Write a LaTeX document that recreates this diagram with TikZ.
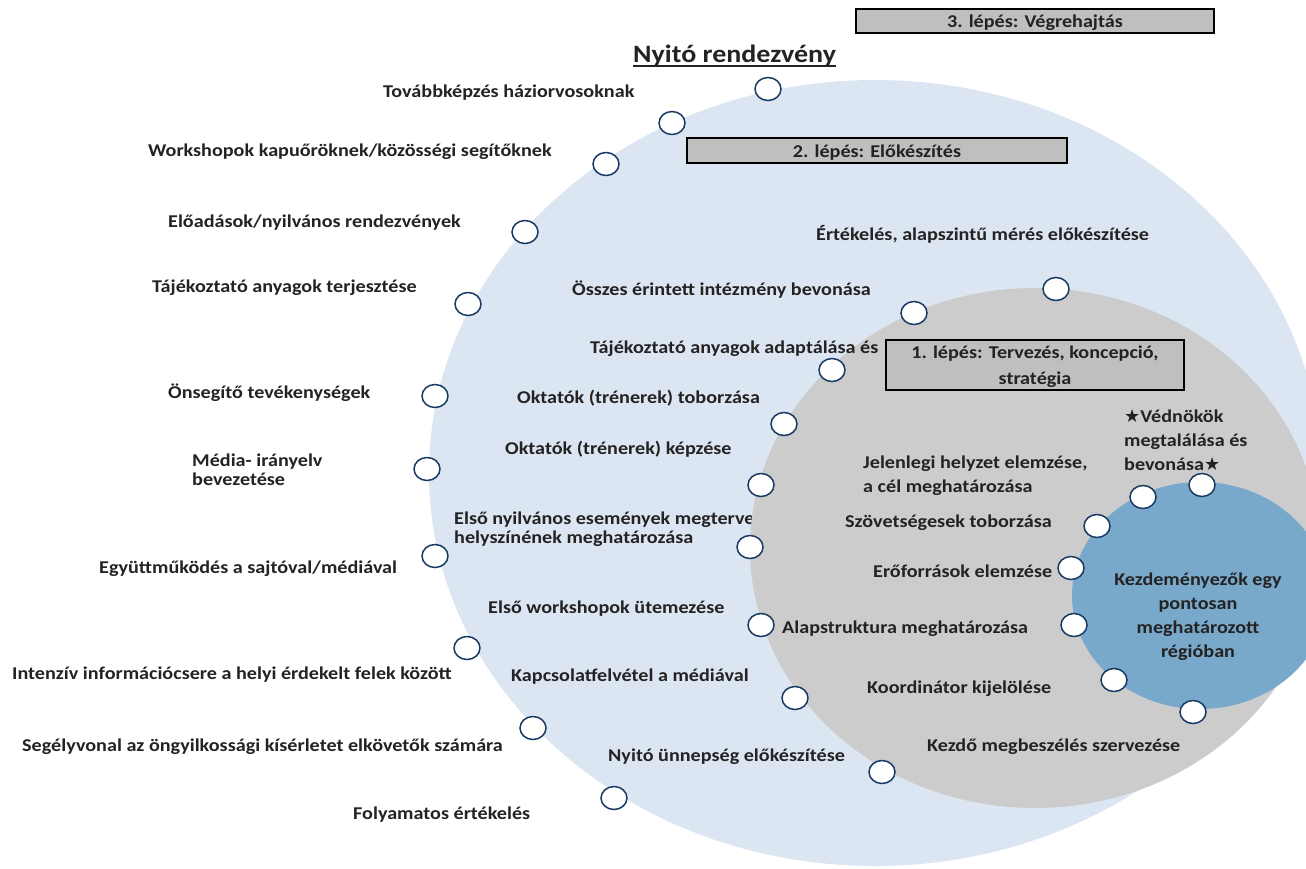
\documentclass[tikz,border=0pt]{standalone}
\usepackage{fontspec}
\setmainfont{Carlito}[FakeStretch=1.12]
\newfontfamily\symfont{DejaVu Sans}
\usetikzlibrary{shapes.geometric}
\definecolor{outerring}{RGB}{220,230,242}
\definecolor{midring}{RGB}{204,204,204}
\definecolor{core}{RGB}{120,169,203}
\definecolor{dotline}{RGB}{24,58,100}
\definecolor{ink}{RGB}{36,34,34}
\definecolor{stepfill}{RGB}{191,191,191}
\begin{document}
\begin{tikzpicture}[x=1pt,y=-1pt,
  % multi-line labels are placed by the baseline of their last line
  lbl/.style={anchor=base west, inner sep=0pt, text=ink, align=left,
    font=\bfseries\fontsize{18}{19}\selectfont},
  wide/.style={font=\bfseries\fontsize{18}{24}\selectfont},
  dot/.style={ellipse, draw=dotline, line width=1.5pt, fill=white,
    minimum width=26pt, minimum height=23pt, inner sep=0pt},
  stepbox/.style={draw=black, line width=1.6pt, fill=stepfill, inner sep=0pt},
  steptext/.style={anchor=base, inner sep=0pt, text=ink, align=center,
    font=\bfseries\fontsize{18}{26}\selectfont}]
\useasboundingbox (0,0) rectangle (1306,868);

% rings
\fill[outerring] (875,473) ellipse [x radius=446pt, y radius=393pt];
\node[lbl] (l16) at (454,543) {Első nyilvános események megterve\\helyszínének meghatározása};
\fill[midring] (1035,548) ellipse [x radius=285pt, y radius=260pt];
\fill[core] (1200,595.5) ellipse [x radius=128pt, y radius=113.5pt];

% outer activities
\node[lbl] (l1) at (383,97) {Továbbképzés háziorvosoknak};
\node[lbl] (l2) at (148,156) {Workshopok kapuőröknek/közösségi segítőknek};
\node[lbl] (l3) at (168,227) {Előadások/nyilvános rendezvények};
\node[lbl] (l4) at (152,292) {Tájékoztató anyagok terjesztése};
\node[lbl] (l5) at (168,398) {Önsegítő tevékenységek};
\node[lbl] (l6) at (192,485) {Média- irányelv\\bevezetése};
\node[lbl] (l7) at (99,573) {Együttműködés a sajtóval/médiával};
\node[lbl] (l8) at (12,679) {Intenzív információcsere a helyi érdekelt felek között};
\node[lbl] (l9) at (22,751) {Segélyvonal az öngyilkossági kísérletet elkövetők számára};
\node[lbl] (l10) at (353,819) {Folyamatos értékelés};

% preparation activities
\node[lbl] (l11) at (816,240) {Értékelés, alapszintű mérés előkészítése};
\node[lbl] (l12) at (572,295) {Összes érintett intézmény bevonása};
\node[lbl] (l13) at (590,353) {Tájékoztató anyagok adaptálása és};
\node[lbl] (l14) at (517,403) {Oktatók (trénerek) toborzása};
\node[lbl] (l15) at (505,454) {Oktatók (trénerek) képzése};
\node[lbl] (l17) at (488,613) {Első workshopok ütemezése};
\node[lbl] (l18) at (511,681) {Kapcsolatfelvétel a médiával};
\node[lbl] (l19) at (608,761) {Nyitó ünnepség előkészítése};

% planning activities
\node[lbl,wide] (l20) at (863,492) {Jelenlegi helyzet elemzése,\\a cél meghatározása};
\node[lbl,wide] (l21) at (1124,470) {{\symfont\bfseries ★}Védnökök\\megtalálása és\\bevonása{\symfont\bfseries ★}};
\node[lbl] (l22) at (845,527) {Szövetségesek toborzása};
\node[lbl] (l23) at (873,577) {Erőforrások elemzése};
\node[lbl] (l24) at (782,633) {Alapstruktura meghatározása};
\node[lbl] (l25) at (867,693) {Koordinátor kijelölése};
\node[lbl] (l26) at (927,751) {Kezdő megbeszélés szervezése};
\node[lbl,wide,anchor=base,align=center] (l27) at (1198,657) {Kezdeményezők egy\\pontosan\\meghatározott\\régióban};

% markers
\foreach \n/\p in {d1/{(768,89)}, d2/{(672,123)}, d3/{(606,164)}, d4/{(525,232)},
  d5/{(468,304)}, d6/{(435,396)}, d7/{(427,469)}, d8/{(435,556)}, d9/{(467,648)},
  d10/{(533,728)}, d11/{(614,798)}, d12/{(1056,289)}, d13/{(914,313)},
  d14/{(832,370)}, d15/{(784,424)}, d16/{(761,485)}, d17/{(750,547)},
  d18/{(761,625)}, d19/{(795,698)}, d20/{(882,772)}, d21/{(1143,497)},
  d22/{(1202,485)}, d23/{(1097,526)}, d24/{(1071,568)}, d25/{(1074,625)},
  d26/{(1114,680)}, d27/{(1193,712)}}
  \node[dot] (\n) at \p {};

% phase boxes and title
\node[stepbox, minimum width=358pt, minimum height=24pt] (s3) at (1035,21) {};
\node[steptext] (s3t) at (1035,27) {3. lépés: Végrehajtás};
\node[stepbox, minimum width=380pt, minimum height=25pt] (s2) at (877,150.5) {};
\node[steptext] (s2t) at (877,157) {2. lépés: Előkészítés};
\node[stepbox, minimum width=298pt, minimum height=50pt] (s1) at (1035,365) {};
\node[steptext] (s1t) at (1035,384) {1. lépés: Tervezés, koncepció,\\stratégia};
\node[anchor=base west, inner sep=0pt, text=ink, font=\bfseries\fontsize{25}{30}\selectfont] (title) at (633,62) {Nyitó rendezvény};
\draw[ink, line width=1.4pt] ([yshift=-4pt]title.base west) -- ([yshift=-4pt]title.base east);
\end{tikzpicture}
\end{document}
